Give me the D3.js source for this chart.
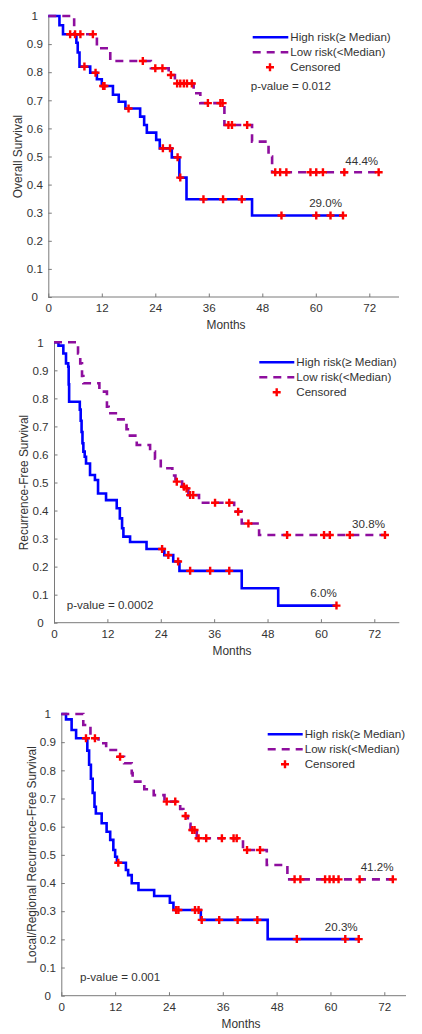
<!DOCTYPE html>
<html>
<head>
<meta charset="utf-8">
<script src="https://cdn.jsdelivr.net/npm/d3@7"></script>
<style>
html,body{margin:0;padding:0;background:#fff;}
svg{display:block;font-family:"Liberation Sans",Arial,sans-serif;}
</style>
</head>
<body>
<svg id="chart" width="422" height="1034"></svg>
<script>
// ---------------- DATA ----------------
const xTicks = [0, 12, 24, 36, 48, 60, 72];
const yTicks = [0, 0.1, 0.2, 0.3, 0.4, 0.5, 0.6, 0.7, 0.8, 0.9, 1];
const yTickLabels = ["0", "0.1", "0.2", "0.3", "0.4", "0.5", "0.6", "0.7", "0.8", "0.9", "1"];
const legendLabels = ["High risk(\u2265 Median)", "Low risk(<Median)", "Censored"];
const xLabel = "Months";

// Panel 1: Overall Survival
const osHighSteps = [[0,1],[2.5,0.967],[3.3,0.935],[6.3,0.905],[6.6,0.87],[7.0,0.82],[9.4,0.798],[10.9,0.775],[12.0,0.751],[14.5,0.72],[15.8,0.695],[17.3,0.671],[20.6,0.642],[21.5,0.612],[22.1,0.585],[24.2,0.559],[25.0,0.529],[27.7,0.497],[29.4,0.425],[31.0,0.348],[45.7,0.29]];
const osHighEnd = 66.1;
const osHighCensor = [4.9, 6.0, 8.1, 10.6, 12.3, 12.6, 18.0, 25.7, 27.3, 29.0, 29.6, 34.8, 39.2, 43.4, 52.3, 60.1, 63.3, 66.1];
const osLowSteps = [[0,1],[5.8,0.935],[10.9,0.885],[13.9,0.84],[23.0,0.814],[27.0,0.79],[28.4,0.76],[32.6,0.725],[34.1,0.69],[39.5,0.612],[45.7,0.553],[49.4,0.5],[50.2,0.444]];
const osLowEnd = 74.1;
const osLowCensor = [7.2, 10.0, 21.2, 24.0, 25.6, 27.5, 28.9, 29.6, 30.4, 31.1, 32.2, 35.8, 38.6, 39.1, 40.4, 41.2, 44.6, 50.9, 52.0, 53.4, 58.8, 60.1, 61.6, 66.4, 74.1];

// Panel 2: Recurrence-Free Survival
const rfsHighSteps = [[0,1],[1.0,0.988],[2.1,0.96],[2.7,0.925],[3.2,0.913],[3.3,0.85],[3.4,0.788],[5.8,0.76],[6.0,0.72],[6.2,0.68],[6.4,0.64],[6.6,0.61],[6.9,0.592],[7.2,0.568],[8.1,0.527],[9.2,0.509],[9.9,0.461],[11.7,0.437],[14.1,0.408],[14.8,0.372],[15.3,0.337],[15.6,0.307],[17.1,0.288],[20.8,0.263],[24.8,0.241],[26.8,0.218],[28.2,0.185],[42.2,0.123],[50.4,0.061]];
const rfsHighEnd = 63.5;
const rfsHighCensor = [24.3, 25.7, 27.9, 30.6, 35.1, 39.4, 63.5];
const rfsLowSteps = [[0,1],[5.4,0.96],[5.9,0.925],[6.3,0.88],[6.6,0.854],[10.2,0.824],[11.9,0.77],[12.3,0.747],[13.9,0.725],[16.3,0.69],[16.6,0.667],[18.6,0.634],[21.6,0.61],[22.7,0.585],[24.0,0.551],[26.6,0.525],[27.3,0.503],[28.8,0.485],[29.5,0.479],[30.2,0.455],[32.6,0.428],[40.5,0.396],[42.2,0.354],[46.1,0.313]];
const rfsLowEnd = 74.4;
const rfsLowCensor = [27.6, 29.2, 29.8, 30.6, 31.3, 36.2, 39.4, 41.4, 43.7, 52.4, 60.7, 62.0, 66.5, 74.4];

// Panel 3: Local/Regional Recurrence-Free Survival
const lrfsHighSteps = [[0,1],[1.05,0.981],[2.3,0.943],[3.3,0.914],[5.8,0.87],[6.2,0.82],[6.6,0.77],[7.0,0.72],[7.4,0.671],[7.7,0.647],[9.0,0.612],[10.1,0.582],[10.9,0.553],[11.6,0.517],[12.0,0.493],[12.4,0.472],[14.4,0.446],[14.9,0.428],[15.7,0.399],[17.2,0.375],[20.7,0.354],[24.2,0.33],[25.0,0.304],[31.1,0.269],[46.0,0.201]];
const lrfsHighEnd = 66.3;
const lrfsHighCensor = [5.5, 12.7, 25.6, 26.1, 29.8, 30.6, 31.3, 35.2, 39.3, 43.7, 52.5, 63.3, 66.3];
const lrfsLowSteps = [[0,1],[4.9,0.961],[6.5,0.914],[8.3,0.896],[10.0,0.872],[12.5,0.848],[14.0,0.825],[15.7,0.79],[15.9,0.76],[18.5,0.733],[20.6,0.712],[23.0,0.689],[26.5,0.663],[27.2,0.638],[28.2,0.61],[28.8,0.588],[30.2,0.559],[40.5,0.517],[45.8,0.464],[50.4,0.413]];
const lrfsLowEnd = 73.9;
const lrfsLowCensor = [7.5, 13.1, 23.5, 25.4, 27.7, 29.2, 29.7, 30.6, 32.3, 35.8, 38.4, 39.1, 41.4, 44.3, 52.0, 53.3, 58.8, 59.8, 60.7, 61.8, 66.5, 73.9];

const yLabels = ["Overall Survival", "Recurrence-Free Survival", "Local/Regional Recurrence-Free Survival"];
const pValues = ["p-value = 0.012", "p-value = 0.0002", "p-value = 0.001"];
const highPct = ["29.0%", "6.0%", "20.3%"];
const lowPct = ["44.4%", "30.8%", "41.2%"];

// ---------------- LAYOUT ----------------
const panels = [
  {left:48.3, x72:369.3, right:399, top:16, bottom:297,
   high:osHighSteps, highEnd:osHighEnd, highC:osHighCensor,
   low:osLowSteps, lowEnd:osLowEnd, lowC:osLowCensor,
   ylx:17.5, xlx:226, leg:{x1:252.7, x2:288.3, y:37.3, dy:15, px:270},
   pv:{x:250.7, y:86}, lowPctPos:[70.3,0.484], highPctPos:[62.2,0.333]},
  {left:54, x72:374.3, right:399.3, top:342.3, bottom:622.7,
   high:rfsHighSteps, highEnd:rfsHighEnd, highC:rfsHighCensor,
   low:rfsLowSteps, lowEnd:rfsLowEnd, lowC:rfsLowCensor,
   ylx:24, xlx:232, leg:{x1:259.3, x2:294.3, y:362.3, dy:15, px:276.7},
   pv:{x:66.7, y:605}, lowPctPos:[70.7,0.352], highPctPos:[60.6,0.105]},
  {left:61.3, x72:384.3, right:406, top:714, bottom:995.7,
   high:lrfsHighSteps, highEnd:lrfsHighEnd, highC:lrfsHighCensor,
   low:lrfsLowSteps, lowEnd:lrfsLowEnd, lowC:lrfsLowCensor,
   ylx:31.5, xlx:241, leg:{x1:267.7, x2:302.7, y:734.3, dy:15, px:285},
   pv:{x:80, y:976.7}, lowPctPos:[70.4,0.456], highPctPos:[62.4,0.245]}
];

const BLUE = "#0000ff", PURPLE = "#8e0e9e", RED = "#ff0000";
const AXIS = "#7a7a7a", TEXT = "#333333";
const FS = "11.6px", LFS = "11.9px";

const svg = d3.select("#chart");
const plusPath = "M-4,0H4M0,-4V4";

function stepValue(steps, t) {
  let v = steps[0][1];
  for (const s of steps) { if (s[0] <= t) v = s[1]; }
  return v;
}

panels.forEach((p, i) => {
  const x = d3.scaleLinear().domain([0, 72]).range([p.left, p.x72]);
  const y = d3.scaleLinear().domain([0, 1]).range([p.bottom, p.top]);
  const xMaxDomain = x.invert(p.right);
  const g = svg.append("g");

  // X axis
  const xAxis = d3.axisBottom(x).tickValues(xTicks).tickSizeInner(-3.5).tickSizeOuter(0).tickPadding(7);
  const gx = g.append("g").attr("transform", `translate(0,${p.bottom})`).call(xAxis);
  gx.select(".domain").attr("d", `M${p.left},0H${x(xMaxDomain)}`);
  gx.selectAll("line").attr("stroke", AXIS);
  gx.select(".domain").attr("stroke", AXIS);
  gx.selectAll("text").attr("fill", TEXT).style("font-size", FS).style("font-family", "Liberation Sans, Arial, sans-serif");

  // Y axis
  const yAxis = d3.axisLeft(y).tickValues(yTicks).tickFormat((d, k) => yTickLabels[k]).tickSizeInner(-3.5).tickSizeOuter(0).tickPadding(0);
  const gy = g.append("g").attr("transform", `translate(${p.left},0)`).call(yAxis);
  gy.selectAll("line").attr("stroke", AXIS);
  gy.select(".domain").attr("stroke", AXIS);
  gy.selectAll("text").attr("fill", TEXT).attr("text-anchor", "middle").attr("x", -13.5)
    .style("font-size", FS).style("font-family", "Liberation Sans, Arial, sans-serif");

  // axis labels
  g.append("text").attr("x", p.xlx).attr("y", p.bottom + 28).attr("dy", "0.35em")
    .attr("text-anchor", "middle").attr("fill", TEXT).style("font-size", LFS).text(xLabel);
  g.append("text").attr("transform", `translate(${p.ylx},${(p.top + p.bottom) / 2}) rotate(-90)`)
    .attr("dy", "0.35em").attr("text-anchor", "middle").attr("fill", TEXT).style("font-size", LFS).text(yLabels[i]);

  // curves
  const line = d3.line().x(d => x(d[0])).y(d => y(d[1])).curve(d3.curveStepAfter);
  const lowPts = p.low.concat([[p.lowEnd, p.low[p.low.length - 1][1]]]);
  const highPts = p.high.concat([[p.highEnd, p.high[p.high.length - 1][1]]]);
  g.append("path").datum(highPts).attr("d", line).attr("fill", "none").attr("stroke", BLUE).attr("stroke-width", 2.6);
  g.append("path").datum(lowPts).attr("d", line).attr("fill", "none").attr("stroke", PURPLE).attr("stroke-width", 2.6).attr("stroke-dasharray", "8,6");

  // censor marks
  const cens = p.highC.map(t => [t, stepValue(p.high, t)]).concat(p.lowC.map(t => [t, stepValue(p.low, t)]));
  g.selectAll(null).data(cens).enter().append("path")
    .attr("d", plusPath).attr("transform", d => `translate(${x(d[0])},${y(d[1])})`)
    .attr("stroke", RED).attr("stroke-width", 2.4).attr("fill", "none");

  // percent labels
  g.append("text").attr("x", x(p.lowPctPos[0])).attr("y", y(p.lowPctPos[1])).attr("dy", "0.35em")
    .attr("text-anchor", "middle").attr("fill", TEXT).style("font-size", FS).text(lowPct[i]);
  g.append("text").attr("x", x(p.highPctPos[0])).attr("y", y(p.highPctPos[1])).attr("dy", "0.35em")
    .attr("text-anchor", "middle").attr("fill", TEXT).style("font-size", FS).text(highPct[i]);

  // p-value
  g.append("text").attr("x", p.pv.x).attr("y", p.pv.y).attr("dy", "0.35em")
    .attr("fill", TEXT).style("font-size", FS).text(pValues[i]);

  // legend
  const L = p.leg;
  g.append("line").attr("x1", L.x1).attr("x2", L.x2).attr("y1", L.y).attr("y2", L.y).attr("stroke", BLUE).attr("stroke-width", 2.6);
  g.append("line").attr("x1", L.x1).attr("x2", L.x2).attr("y1", L.y + L.dy).attr("y2", L.y + L.dy).attr("stroke", PURPLE).attr("stroke-width", 2.6).attr("stroke-dasharray", "8,6");
  g.append("path").attr("d", plusPath).attr("transform", `translate(${L.px},${L.y + 2 * L.dy})`).attr("stroke", RED).attr("stroke-width", 2.4);
  legendLabels.forEach((lab, k) => {
    g.append("text").attr("x", L.x2 + 2).attr("y", L.y + k * L.dy).attr("dy", "0.35em")
      .attr("fill", TEXT).style("font-size", FS).text(lab);
  });
});
</script>
</body>
</html>
